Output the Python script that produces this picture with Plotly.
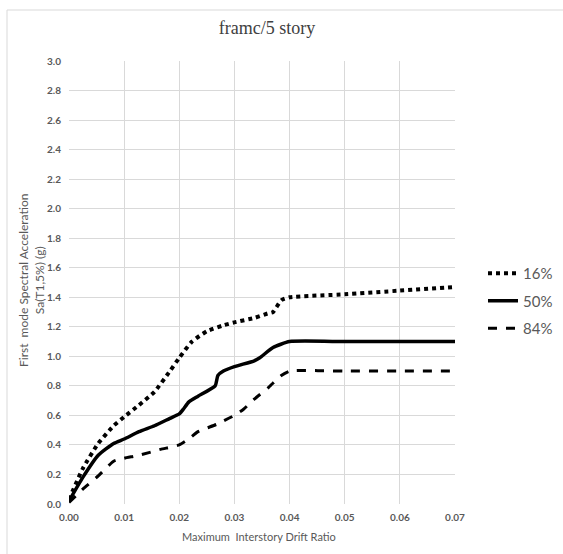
import plotly.graph_objects as go

# 16% curve
x16 = [0.0, 0.0025, 0.0053, 0.0081, 0.010, 0.0127, 0.0155, 0.0183, 0.020, 0.0223, 0.025, 0.028, 0.030, 0.0336, 0.036, 0.037, 0.0385, 0.040, 0.050, 0.060, 0.070]
y16 = [0.03, 0.24, 0.41, 0.53, 0.59, 0.67, 0.76, 0.90, 0.99, 1.10, 1.17, 1.21, 1.23, 1.26, 1.29, 1.30, 1.38, 1.40, 1.42, 1.445, 1.47]

# 50% curve
x50 = [0.0, 0.0025, 0.0053, 0.0081, 0.010, 0.0127, 0.0155, 0.0183, 0.020, 0.0208, 0.0217, 0.0234, 0.0265, 0.027, 0.028, 0.030, 0.0336, 0.0346, 0.037, 0.040, 0.050, 0.060, 0.070]
y50 = [0.02, 0.18, 0.33, 0.41, 0.44, 0.49, 0.53, 0.58, 0.61, 0.645, 0.69, 0.73, 0.80, 0.87, 0.90, 0.93, 0.97, 0.99, 1.06, 1.10, 1.10, 1.10, 1.10]

# 84% curve
x84 = [0.0, 0.0025, 0.0053, 0.0081, 0.010, 0.0127, 0.0166, 0.020, 0.0217, 0.0234, 0.0268, 0.030, 0.0316, 0.0336, 0.0362, 0.0385, 0.040, 0.050, 0.060, 0.070]
y84 = [0.01, 0.10, 0.19, 0.29, 0.31, 0.33, 0.37, 0.40, 0.44, 0.49, 0.54, 0.60, 0.64, 0.71, 0.79, 0.87, 0.90, 0.90, 0.90, 0.90]

names = ["16%", "50%", "84%"]
dashes = ["dot", "solid", "dash"]
widths = [4, 3.5, 3]

fig = go.Figure()
for xs, ys, n, d, w in zip([x16, x50, x84], [y16, y50, y84], names, dashes, widths):
    fig.add_trace(go.Scatter(x=xs, y=ys, mode="lines", name=n, legendgroup=n,
                             line=dict(color="black", dash=d, width=w, shape="spline", smoothing=0.5)))

gray = "#595959"
fig.update_layout(
    width=563, height=554,
    margin=dict(l=69, r=108, t=61, b=50),
    paper_bgcolor="white", plot_bgcolor="white",
    title=dict(text="framc/5 story", x=267/563, xanchor="center", y=1 - 28/554, yanchor="middle",
               font=dict(family="Liberation Serif", size=18, color="#404040")),
    showlegend=True,
    legend=dict(xref="container", yref="container", x=483/563, y=1 - 257/554, xanchor="left", yanchor="top",
                font=dict(family="Lato", size=15, color=gray), traceorder="grouped",
                tracegroupgap=5, itemwidth=30, bgcolor="rgba(0,0,0,0)"),
    xaxis=dict(range=[0, 0.07], dtick=0.01, tickformat=".2f", showgrid=True, gridcolor="#d9d9d9",
               zeroline=False, showline=False, ticks="", ticklabelstandoff=6,
               tickfont=dict(family="Lato", size=10, color=gray, weight="bold")),
    yaxis=dict(range=[0, 3.0], dtick=0.2, tickformat=".1f", showgrid=True, gridcolor="#d9d9d9",
               zeroline=False, showline=False, ticks="", ticklabelstandoff=7,
               tickfont=dict(family="Lato", size=10, color=gray, weight="bold")),
)
fig.add_annotation(text="Maximum  Interstory Drift Ratio", xref="paper", yref="paper",
                   x=(259 - 69) / 386, y=-(536 - 504) / 443, xanchor="center", yanchor="middle", showarrow=False,
                   font=dict(family="Lato", size=11, color=gray))
fig.add_annotation(text="First  mode Spectral Acceleration<br>Sa(T1,5%) (g)", xref="paper", yref="paper",
                   x=-(69 - 31) / 386, y=(504 - 281) / 443, xanchor="center", yanchor="middle",
                   textangle=-90, showarrow=False,
                   font=dict(family="Lato", size=12, color=gray))
fig.add_shape(type="line", xref="paper", yref="paper", x0=-62/386, x1=1.3, y0=(504 - 10) / 443, y1=(504 - 10) / 443,
              line=dict(color="#d9d9d9", width=1))
fig.add_shape(type="line", xref="paper", yref="paper", x0=-62/386, x1=-62/386, y0=-0.2, y1=(504 - 10) / 443,
              line=dict(color="#d9d9d9", width=1))
fig.write_html("out.html")
